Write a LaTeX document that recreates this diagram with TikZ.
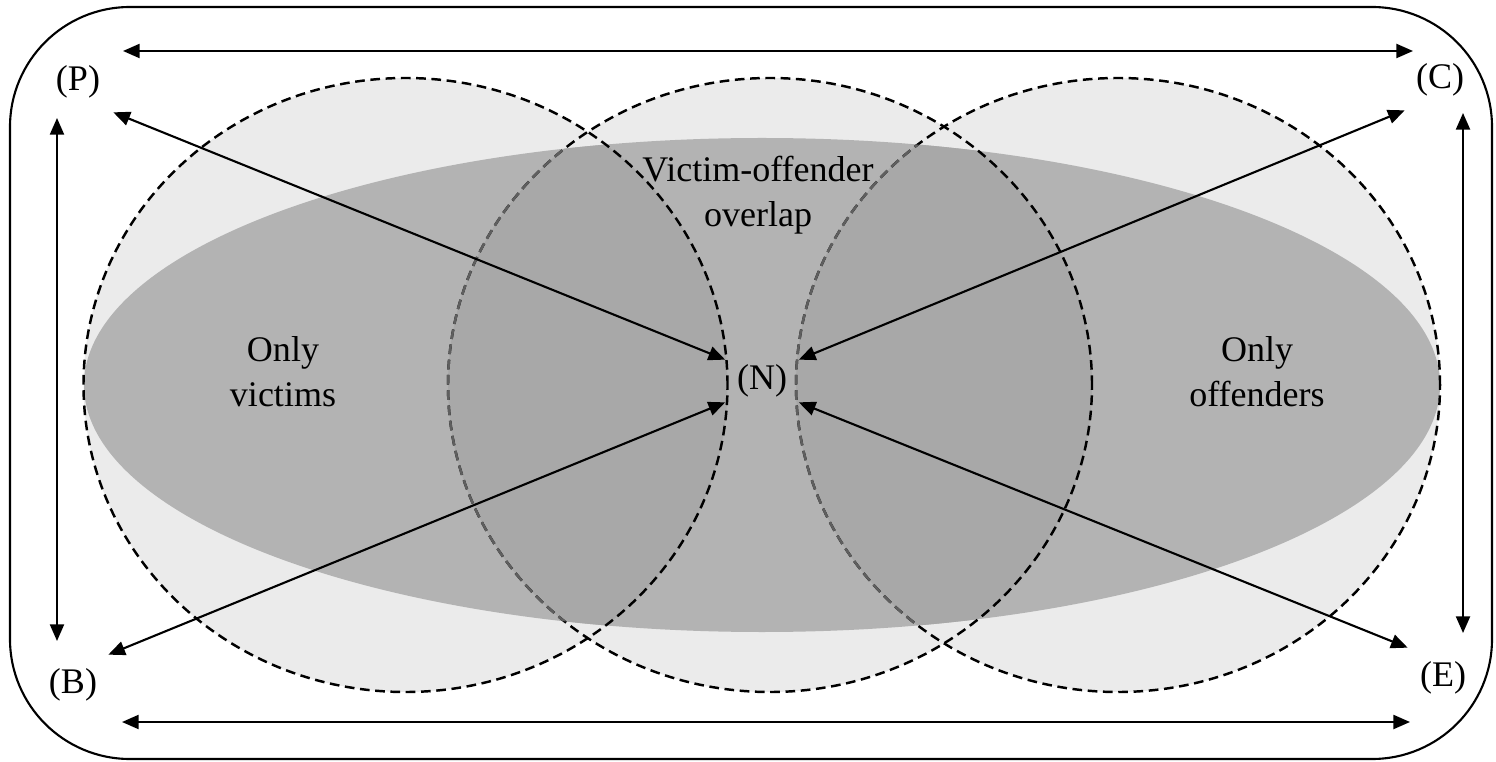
\documentclass[tikz,border=0pt]{standalone}
\usepackage{fontspec}
\setmainfont{Liberation Serif}
\usetikzlibrary{arrows.meta}
\definecolor{lightfill}{RGB}{235,235,235}
\definecolor{midfill}{RGB}{179,179,179}
\definecolor{darkfill}{RGB}{168,168,168}
\definecolor{dashgray}{RGB}{95,95,95}

\begin{document}
\begin{tikzpicture}[x=0.02cm, y=0.02cm,
    every node/.style={font=\fontsize{20.5}{25.5}\selectfont, align=center},
    corner/.style={minimum width=1.4cm, minimum height=1.2cm, inner sep=0pt},
    hub/.style={minimum width=1.46cm, minimum height=0.84cm, inner sep=0pt},
    ring/.style={dash pattern=on 5.5pt off 3.2pt, line width=1.4pt},
    link/.style={line width=1.2pt, {Triangle[length=9.5pt,width=8pt]}-{Triangle[length=9.5pt,width=8pt]}}]
    \useasboundingbox (0,0) rectangle (1496,761);

    % circles and the overlap ellipse
    \fill[lightfill] (405.5,376) ellipse [x radius=322, y radius=307];
    \fill[lightfill] (770,376) ellipse [x radius=322, y radius=307];
    \fill[lightfill] (1118,376) ellipse [x radius=322, y radius=307];
    \fill[midfill] (762,376) ellipse [x radius=678, y radius=247];
    \begin{scope}
        \clip (762,376) ellipse [x radius=678, y radius=247];
        \clip (405.5,376) ellipse [x radius=322, y radius=307];
        \fill[darkfill] (770,376) ellipse [x radius=322, y radius=307];
    \end{scope}
    \begin{scope}
        \clip (762,376) ellipse [x radius=678, y radius=247];
        \clip (1118,376) ellipse [x radius=322, y radius=307];
        \fill[darkfill] (770,376) ellipse [x radius=322, y radius=307];
    \end{scope}

    \draw[ring] (405.5,376) ellipse [x radius=322, y radius=307];
    \draw[ring] (770,376) ellipse [x radius=322, y radius=307];
    \draw[ring] (1118,376) ellipse [x radius=322, y radius=307];
    \begin{scope}
        \clip (762,376) ellipse [x radius=678, y radius=247];
        \clip (0,0) rectangle (770,761);
        \draw[ring, dashgray] (770,376) ellipse [x radius=322, y radius=307];
    \end{scope}
    \begin{scope}
        \clip (762,376) ellipse [x radius=678, y radius=247];
        \clip (0,0) rectangle (1118,761);
        \draw[ring, dashgray] (1118,376) ellipse [x radius=322, y radius=307];
    \end{scope}

    % frame
    \draw[line width=1.2pt, rounded corners=2.4cm] (10,2) rectangle (1492,754);

    % labels
    \node[corner] (nP) at (78,679) {(P)};
    \node[corner] (nC) at (1440,681) {(C)};
    \node[corner] (nB) at (73,76) {(B)};
    \node[corner] (nE) at (1443,83) {(E)};
    \node[hub] (nN) at (762,380) {(N)};
    \node (victims) at (283,389) {Only\\victims};
    \node (offenders) at (1257,389) {Only\\offenders};
    \node (overlap) at (758,566) {Victim-offender\\overlap};

    \coordinate (topL) at (123,710);
    \coordinate (topR) at (1413,710);
    \coordinate (botL) at (122,39);
    \coordinate (botR) at (1410,39);
    \coordinate (leftT) at (57,643);
    \coordinate (leftB) at (57,120);
    \coordinate (rightT) at (1463,648);
    \coordinate (rightB) at (1463,128);

    % arrows
    \draw[link] (topL) -- (topR);
    \draw[link] (botL) -- (botR);
    \draw[link] (leftT) -- (leftB);
    \draw[link] (rightT) -- (rightB);
    \draw[link] (nP.south east) -- (nN.north west);
    \draw[link] (nC.south west) -- (nN.north east);
    \draw[link] (nB.north east) -- (nN.south west);
    \draw[link] (nE.north west) -- (nN.south east);
\end{tikzpicture}
\end{document}
